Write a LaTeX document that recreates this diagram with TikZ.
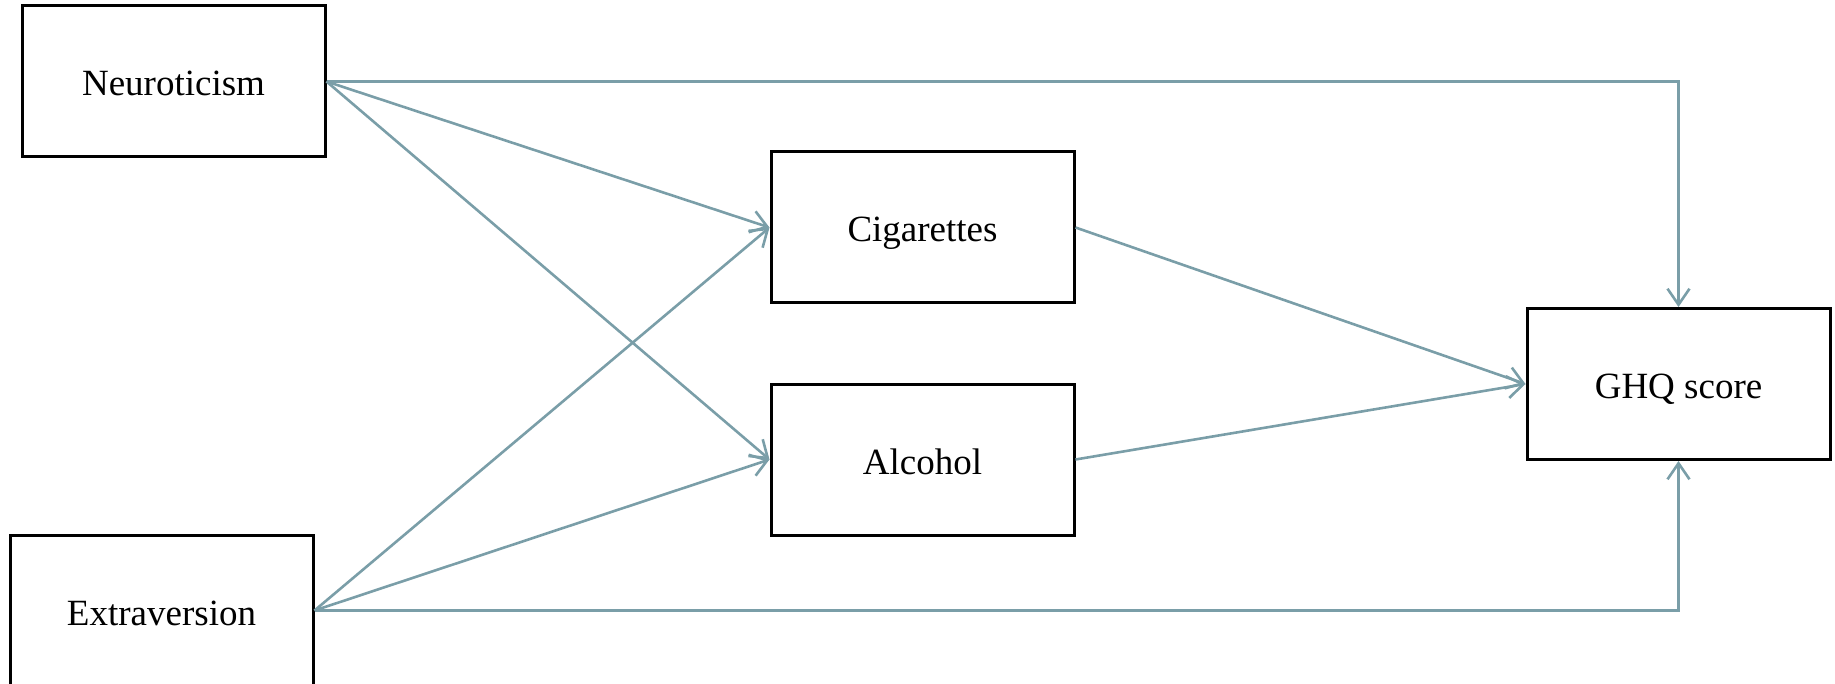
\documentclass[tikz,border=0pt]{standalone}
\usepackage{fontspec}
\setmainfont{Liberation Serif}
\usetikzlibrary{arrows.meta}
\definecolor{linkcol}{RGB}{122,158,168}
\tikzset{
  varbox/.style={draw=black, line width=3pt, rectangle, minimum width=303pt,
    minimum height=151pt, inner sep=0pt, text height=29pt, text depth=0pt,
    font=\fontsize{37}{44}\selectfont},
  link/.style={draw=linkcol, line width=2.6pt,
    -{Straight Barb[length=16pt,width=22pt]}},
}
\begin{document}
\begin{tikzpicture}[x=1pt,y=-1pt]
  \useasboundingbox (0,0) rectangle (1835,684);
  \clip (0,0) rectangle (1835,684);
  % variables
  \node[varbox] (neu) at (173.5,81.5) {Neuroticism};
  \node[varbox] (ext) at (161.5,610.5) {Extraversion};
  \node[varbox] (cig) at (922.5,227.5) {Cigarettes};
  \node[varbox] (alc) at (922.5,459.5) {Alcohol};
  \node[varbox] (ghq) at (1678.5,384) {GHQ score};
  % paths
  \draw[link] (neu.east) -- (cig.west);
  \draw[link] (neu.east) -- (alc.west);
  \draw[link] (ext.east) -- (cig.west);
  \draw[link] (ext.east) -- (alc.west);
  \draw[link] (cig.east) -- (ghq.west);
  \draw[link] (alc.east) -- (ghq.west);
  \draw[link] (neu.east) -- (neu.east -| ghq.north) -- (ghq.north);
  \draw[link] (ext.east) -- (ext.east -| ghq.south) -- (ghq.south);
\end{tikzpicture}
\end{document}
